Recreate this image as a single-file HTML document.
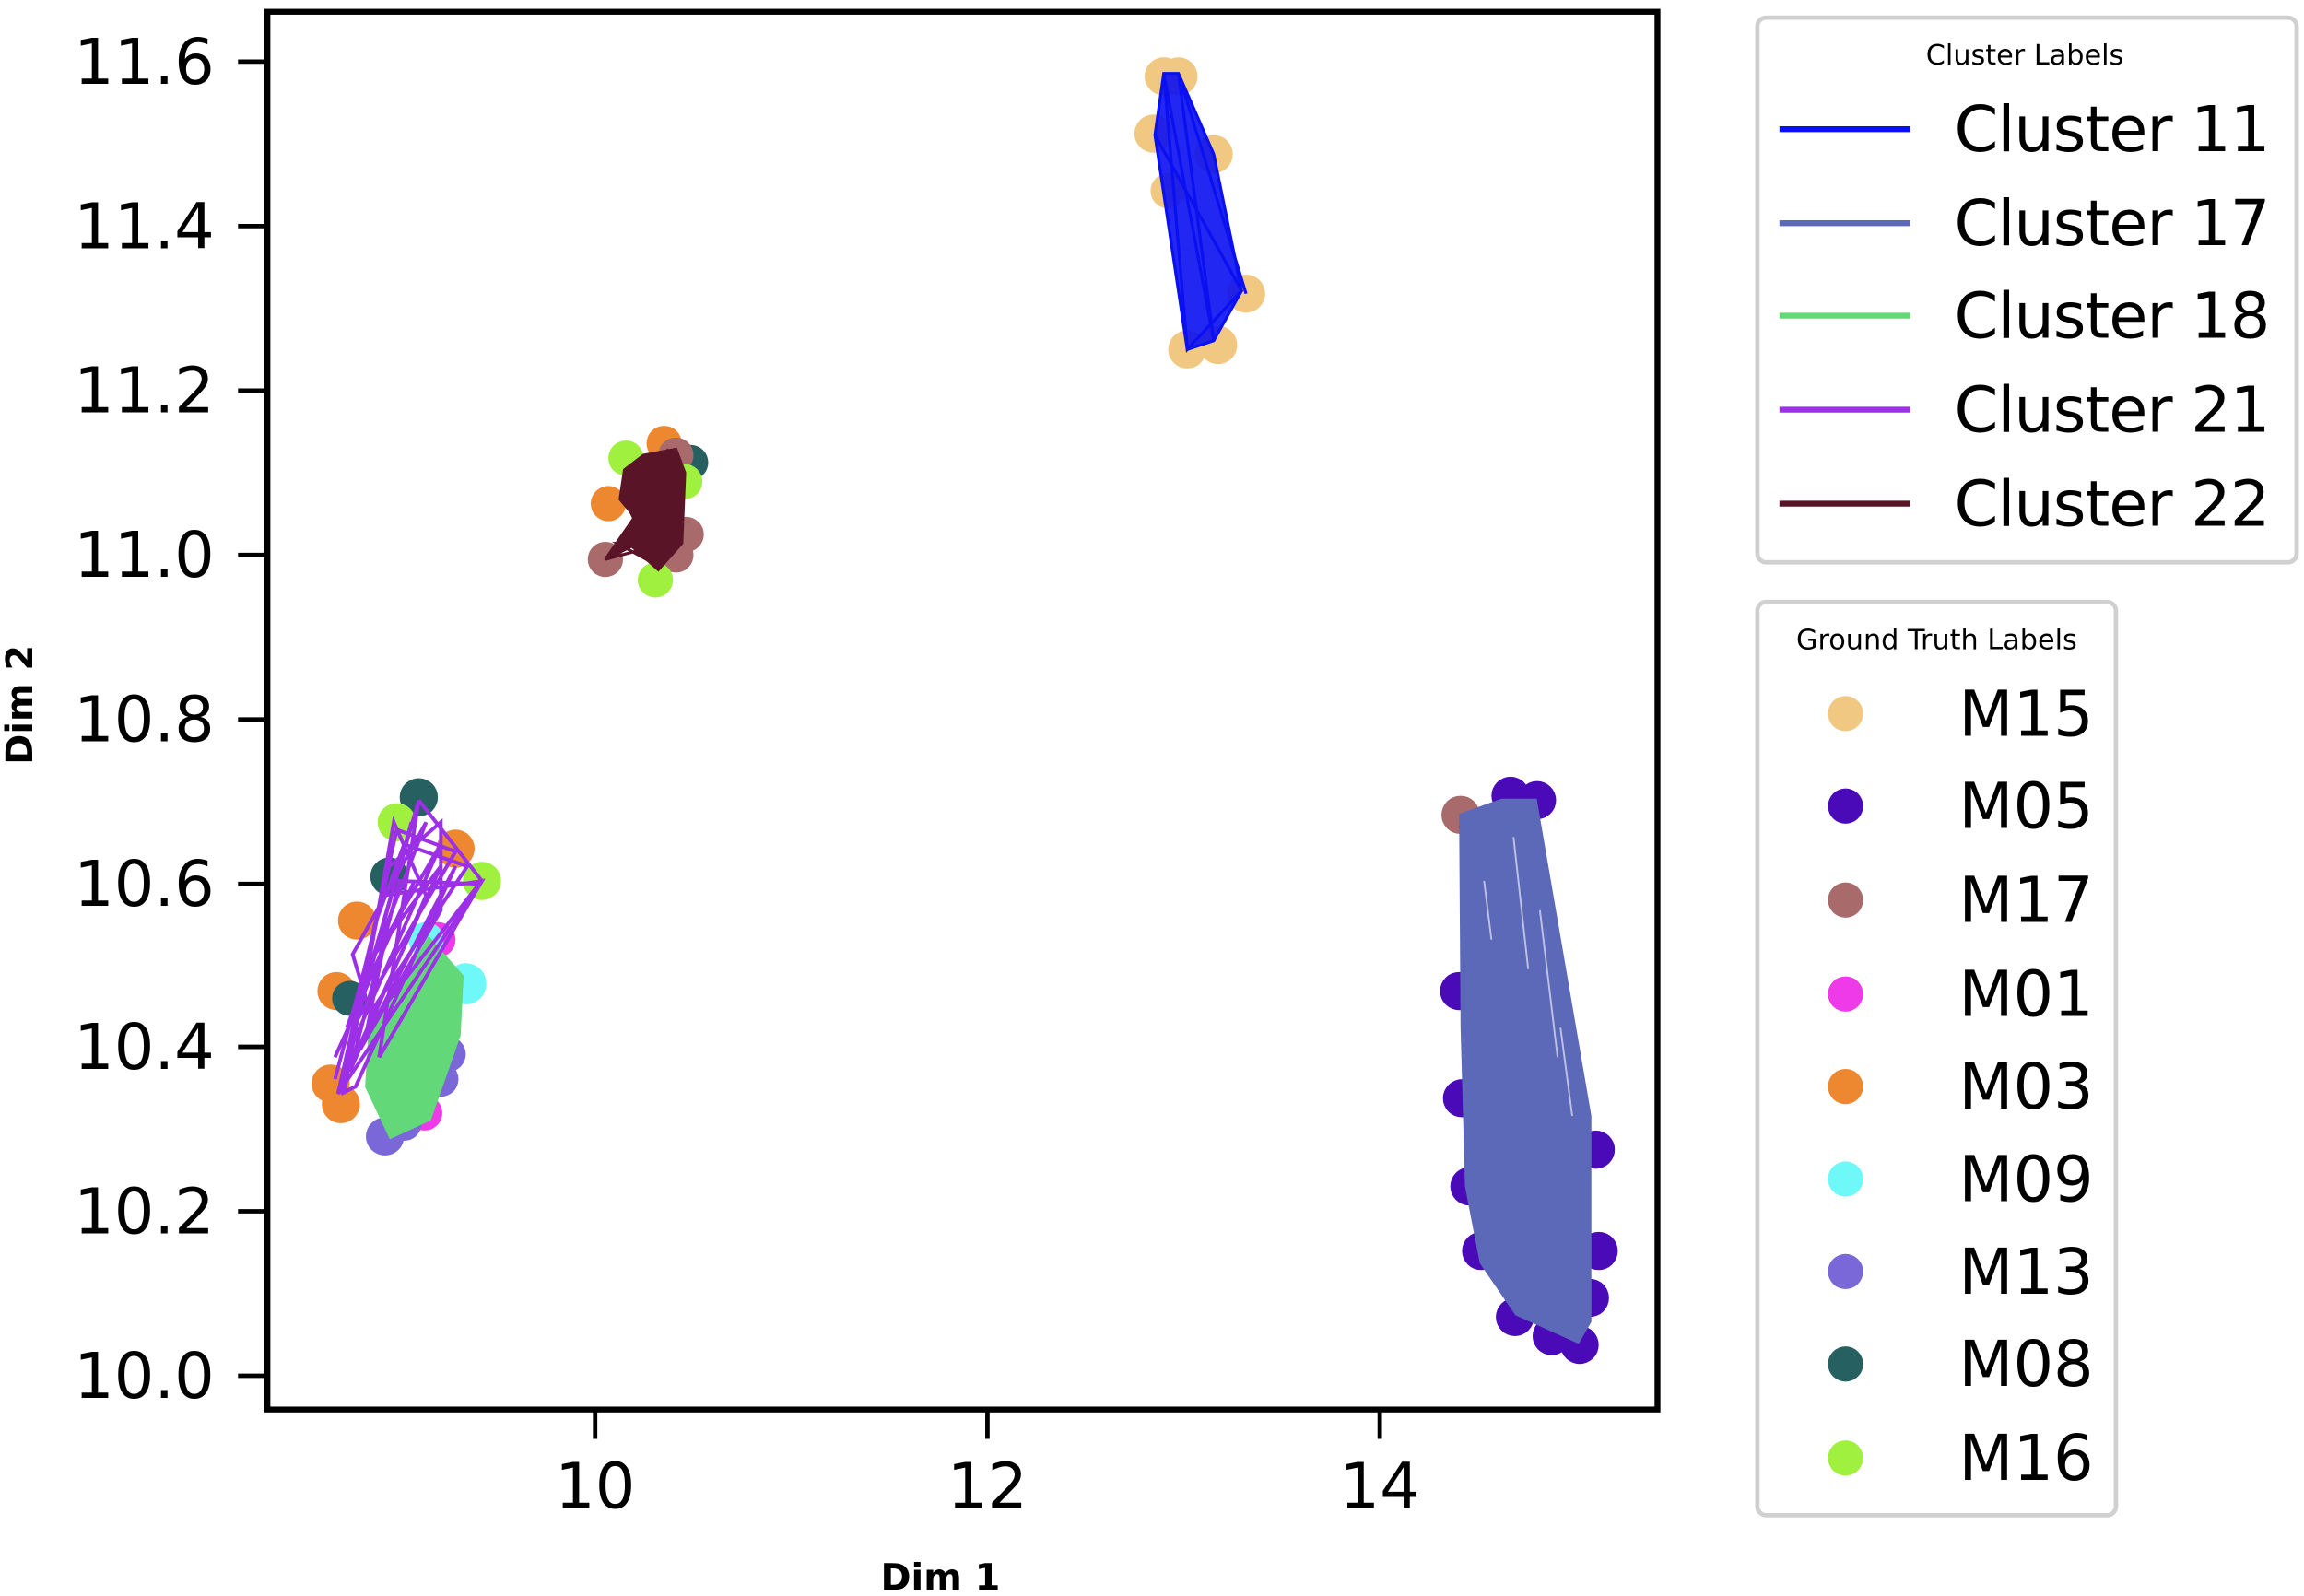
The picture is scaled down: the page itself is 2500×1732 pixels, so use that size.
<!DOCTYPE html>
<html><head><meta charset="utf-8"><style>
html,body{margin:0;padding:0;background:#fff;}
svg{display:block;}
text{font-family:"DejaVu Sans","Liberation Sans",sans-serif;}
</style></head><body>
<svg width="2500" height="1732" viewBox="0 0 1568 1087" preserveAspectRatio="none" xmlns="http://www.w3.org/2000/svg">
<rect width="1568" height="1087" fill="#fff"/>
<!-- cluster 11 points -->
<g fill="#f0c882">
<circle cx="792" cy="52" r="13"/><circle cx="802" cy="52" r="13"/><circle cx="785" cy="91" r="13"/><circle cx="826" cy="105" r="13"/><circle cx="795" cy="130" r="12"/><circle cx="848" cy="200" r="13"/><circle cx="808" cy="238" r="13"/><circle cx="829" cy="235" r="13"/>
</g>
<g stroke="#0a10f0" stroke-width="2" fill="none">
<polygon points="792,50 802,50 826,105 845,198 826,232 808,238 786,92" fill="#0a10f0" fill-opacity="0.9"/>
<polyline points="786,92 845,198 808,238 792,50 826,232 802,50 848,200"/>
</g>
<!-- cluster 22 -->
<g>
<circle cx="452" cy="302" r="12" fill="#ee8830"/><circle cx="426" cy="312" r="12" fill="#a0f040"/><circle cx="470" cy="315" r="12" fill="#266060"/><circle cx="460" cy="310" r="12" fill="#a86a6a"/><circle cx="466" cy="328" r="12" fill="#a0f040"/><circle cx="414" cy="343" r="12" fill="#ee8830"/><circle cx="467" cy="364" r="12" fill="#a86a6a"/><circle cx="460" cy="378" r="12" fill="#a86a6a"/><circle cx="412" cy="381" r="12" fill="#a86a6a"/><circle cx="446" cy="395" r="12" fill="#a0f040"/>
<polygon points="425,320 438,310 460,306 466,322 464,370 448,388 430,372 412,381 432,352 422,340" fill="#5a1428" stroke="#5a1428" stroke-width="2"/>
<polyline points="412,381 460,368 420,370 447,385 424,338 455,306" fill="none" stroke="#5a1428" stroke-width="2"/>
</g>
<!-- left cluster points -->
<g>
<circle cx="285" cy="543" r="13" fill="#266060"/><circle cx="270" cy="560" r="13" fill="#a0f040"/><circle cx="310" cy="578" r="13" fill="#ee8830"/><circle cx="328" cy="600" r="13" fill="#a0f040"/><circle cx="265" cy="597" r="13" fill="#266060"/><circle cx="243" cy="627" r="13" fill="#ee8830"/><circle cx="298" cy="640" r="12" fill="#ee3ae8"/><circle cx="290" cy="640" r="12" fill="#6ef8f8"/><circle cx="317" cy="670" r="14" fill="#6ef8f8"/><circle cx="229" cy="675" r="13" fill="#ee8830"/><circle cx="238" cy="680" r="12" fill="#266060"/><circle cx="305" cy="718" r="12" fill="#7b68d8"/><circle cx="300" cy="735" r="12" fill="#7b68d8"/><circle cx="225" cy="738" r="13" fill="#ee8830"/><circle cx="232" cy="752" r="13" fill="#ee8830"/><circle cx="289" cy="758" r="12" fill="#ee3ae8"/><circle cx="262" cy="774" r="13" fill="#7b68d8"/><circle cx="275" cy="765" r="12" fill="#7b68d8"/>
<polygon points="252,705 292,640 314,665 312,705 292,762 266,774 250,740" fill="#62d878" stroke="#62d878" stroke-width="3"/>
<g stroke="#9b30e6" stroke-width="2.5" fill="none">
<polyline points="285,545 328,600 230,745 270,565 310,580 240,700 285,545 258,720 328,600 260,610 232,740 300,590 255,650 285,545"/>
<polyline points="245,690 268,560 290,610 238,730 272,600 326,602 250,700 262,640 300,575 236,720 280,560"/>
<polyline points="228,735 248,660 265,590 300,560 300,620 245,715 310,590 242,740 232,745"/>
<polyline points="234,745 255,630 275,575 318,590 252,690 240,650 290,560 236,700 282,600 228,720"/>
</g>
</g>
<!-- cluster 17 -->
<g fill="#4a0ab8">
<circle cx="1028" cy="542" r="13"/><circle cx="1046" cy="545" r="13"/><circle cx="993" cy="675" r="13"/><circle cx="995" cy="748" r="13"/><circle cx="1000" cy="808" r="13"/><circle cx="1008" cy="852" r="13"/><circle cx="1031" cy="897" r="13"/><circle cx="1056" cy="910" r="13"/><circle cx="1075" cy="916" r="13"/><circle cx="1082" cy="884" r="13"/><circle cx="1088" cy="852" r="13"/><circle cx="1086" cy="783" r="13"/>
</g>
<circle cx="994" cy="555" r="13" fill="#a86a6a"/>
<polygon points="994,555 1022,545 1045,545 1082,760 1082,900 1074,914 1032,895 1008,860 998,808 995,700" fill="#5c68b8" stroke="#5c68b8" stroke-width="2"/>
<g stroke="#fff" stroke-width="1.2" opacity="0.6"><line x1="1010" y1="600" x2="1015" y2="640"/><line x1="1030" y1="570" x2="1040" y2="660"/><line x1="1048" y1="620" x2="1060" y2="720"/><line x1="1062" y1="700" x2="1070" y2="760"/></g>
<!-- axes -->
<rect x="182" y="8" width="946" height="952" fill="none" stroke="#000" stroke-width="4"/>
<g stroke="#000" stroke-width="3">
<line x1="162" y1="42" x2="182" y2="42"/><line x1="162" y1="154" x2="182" y2="154"/><line x1="162" y1="266" x2="182" y2="266"/><line x1="162" y1="378" x2="182" y2="378"/><line x1="162" y1="490" x2="182" y2="490"/><line x1="162" y1="602" x2="182" y2="602"/><line x1="162" y1="713" x2="182" y2="713"/><line x1="162" y1="825" x2="182" y2="825"/><line x1="162" y1="937" x2="182" y2="937"/>
<line x1="405" y1="960" x2="405" y2="980"/><line x1="672" y1="960" x2="672" y2="980"/><line x1="939" y1="960" x2="939" y2="980"/>
</g>
<g font-size="43" text-anchor="end" fill="#000">
<text x="146" y="57">11.6</text><text x="146" y="169">11.4</text><text x="146" y="281">11.2</text><text x="146" y="393">11.0</text><text x="146" y="505">10.8</text><text x="146" y="617">10.6</text><text x="146" y="728">10.4</text><text x="146" y="840">10.2</text><text x="146" y="952">10.0</text>
</g>
<g font-size="43" text-anchor="middle"><text x="405" y="1027">10</text><text x="672" y="1027">12</text><text x="939" y="1027">14</text></g>
<text x="640" y="1083" font-size="25" font-weight="bold" text-anchor="middle">Dim 1</text>
<text transform="translate(22,480) rotate(-90)" font-size="25" font-weight="bold" text-anchor="middle">Dim 2</text>
<!-- legend 1 -->
<rect x="1196" y="12" width="367" height="371" rx="6" fill="#fff" stroke="#d0d0d0" stroke-width="3"/>
<text x="1378" y="44" font-size="19" text-anchor="middle">Cluster Labels</text>
<g stroke-width="4"><line x1="1211" y1="88" x2="1300" y2="88" stroke="#0a10f0"/><line x1="1211" y1="152" x2="1300" y2="152" stroke="#5c68b8"/><line x1="1211" y1="215" x2="1300" y2="215" stroke="#62d878"/><line x1="1211" y1="279" x2="1300" y2="279" stroke="#9b30e6"/><line x1="1211" y1="343" x2="1300" y2="343" stroke="#5a1428"/></g>
<g font-size="43"><text x="1330" y="103" textLength="215">Cluster 11</text><text x="1330" y="167" textLength="215">Cluster 17</text><text x="1330" y="230" textLength="215">Cluster 18</text><text x="1330" y="294" textLength="215">Cluster 21</text><text x="1330" y="358" textLength="215">Cluster 22</text></g>
<!-- legend 2 -->
<rect x="1196" y="410" width="244" height="622" rx="6" fill="#fff" stroke="#d0d0d0" stroke-width="3"/>
<text x="1318" y="442" font-size="19" text-anchor="middle">Ground Truth Labels</text>
<g><circle cx="1256" cy="486" r="12" fill="#f0c882"/><circle cx="1256" cy="549" r="12" fill="#4a0ab8"/><circle cx="1256" cy="613" r="12" fill="#a86a6a"/><circle cx="1256" cy="677" r="12" fill="#ee3ae8"/><circle cx="1256" cy="740" r="12" fill="#ee8830"/><circle cx="1256" cy="803" r="12" fill="#6ef8f8"/><circle cx="1256" cy="866" r="12" fill="#7b68d8"/><circle cx="1256" cy="929" r="12" fill="#266060"/><circle cx="1256" cy="993" r="12" fill="#a0f040"/></g>
<g font-size="43"><text x="1333" y="501">M15</text><text x="1333" y="564">M05</text><text x="1333" y="628">M17</text><text x="1333" y="692">M01</text><text x="1333" y="755">M03</text><text x="1333" y="818">M09</text><text x="1333" y="881">M13</text><text x="1333" y="944">M08</text><text x="1333" y="1008">M16</text></g>
</svg>
</body></html>
